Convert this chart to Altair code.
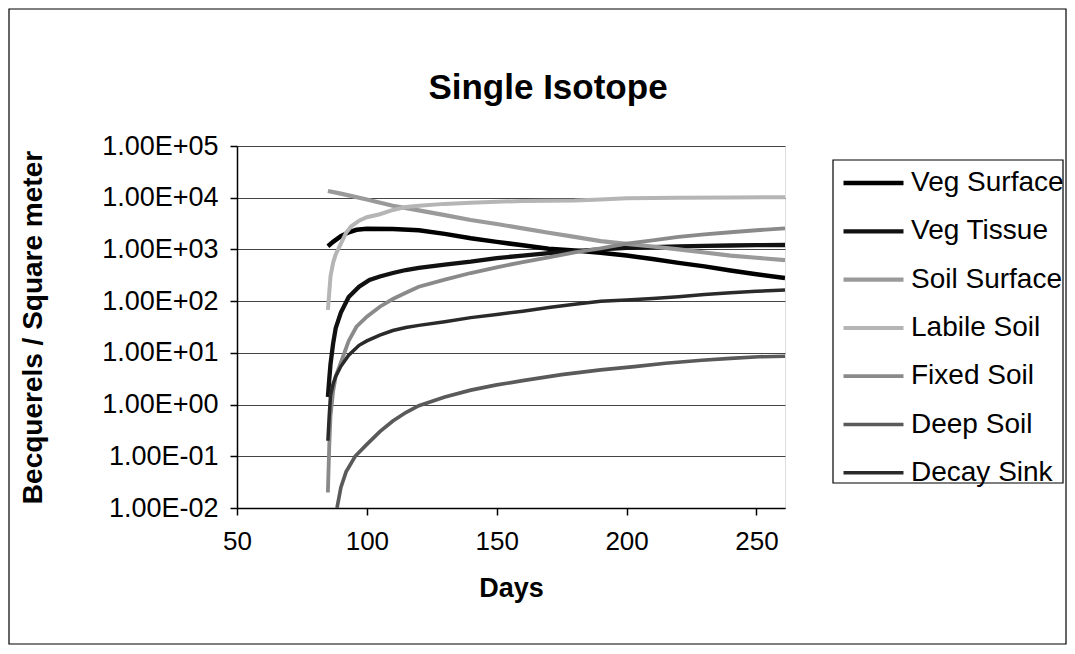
import altair as alt
import pandas as pd

# ---- data ----
series = ["Veg Surface", "Veg Tissue", "Soil Surface", "Labile Soil",
          "Fixed Soil", "Deep Soil", "Decay Sink"]

veg_surface_days = [85, 87, 90, 93, 96, 100, 110, 120, 130, 140, 150, 160, 170, 180,
                    190, 200, 210, 220, 230, 240, 250, 261]
veg_surface_vals = [1150, 1400, 1800, 2150, 2400, 2500, 2480, 2350, 2000, 1650, 1400,
                    1200, 1030, 950, 860, 760, 650, 550, 470, 390, 330, 280]

veg_tissue_days = [85, 85.5, 86, 87, 88, 90, 93, 97, 101, 105, 110, 115, 120, 130, 140,
                   150, 160, 170, 180, 190, 200, 210, 220, 230, 240, 250, 261]
veg_tissue_vals = [1.4, 3, 6, 15, 30, 60, 120, 190, 257, 300, 350, 400, 440, 510, 580,
                   680, 760, 850, 930, 1000, 1070, 1110, 1140, 1170, 1190, 1210, 1220]

soil_surface_days = [85, 90, 100, 110, 120, 130, 140, 150, 160, 170, 180, 190, 200,
                     210, 220, 230, 240, 250, 261]
soil_surface_vals = [13500, 12000, 9200, 7000, 5700, 4600, 3700, 3100, 2550, 2100,
                     1750, 1450, 1280, 1140, 1000, 870, 760, 690, 620]

labile_soil_days = [85, 86, 87, 88, 90, 92, 94, 97, 100, 105, 110, 115, 120, 130, 140,
                    150, 160, 170, 180, 190, 200, 220, 240, 261]
labile_soil_vals = [68, 300, 550, 800, 1300, 2100, 2800, 3600, 4200, 4800, 5800, 6600,
                    7000, 7600, 8000, 8400, 8600, 8700, 8800, 9200, 9800, 10000, 10100,
                    10200]

fixed_soil_days = [85, 85.5, 86, 87, 88, 90, 93, 96, 100, 105, 110, 115, 120, 130, 140,
                   150, 160, 170, 180, 190, 200, 210, 220, 230, 240, 250, 261]
fixed_soil_vals = [0.02, 0.15, 0.6, 1.8, 3.5, 6.5, 17, 32, 50, 78, 110, 145, 190, 260,
                   350, 450, 570, 700, 880, 1050, 1300, 1500, 1750, 1950, 2150, 2350,
                   2550]

deep_soil_days = [88.5, 90, 92, 95.5, 100, 105, 110, 115, 120, 130, 140, 150, 160, 175,
                  190, 203, 215, 229, 240, 251, 261]
deep_soil_vals = [0.01, 0.025, 0.05, 0.1, 0.17, 0.3, 0.48, 0.7, 0.95, 1.4, 1.9, 2.4,
                  2.9, 3.8, 4.7, 5.4, 6.3, 7.2, 7.8, 8.4, 8.6]

decay_sink_days = [85, 85.5, 86, 87, 88, 90, 93, 97, 100, 105, 110, 115, 120, 130, 140,
                   150, 160, 170, 180, 190, 200, 210, 220, 230, 240, 250, 261]
decay_sink_vals = [0.2, 0.6, 1.5, 2.5, 3.5, 5.5, 9, 14, 17, 22, 27, 31, 34, 40, 48, 55,
                   64, 75, 87, 100, 105, 112, 122, 135, 145, 155, 165]

x_ticks = [50, 100, 150, 200, 250]
y_ticks = [0.01, 0.1, 1, 10, 100, 1000, 10000, 100000]

colors = ["#000000", "#111111", "#9a9a9a", "#b5b5b5", "#8a8a8a", "#5a5a5a", "#2a2a2a"]
widths = [4.5, 3.5, 3.5, 3.5, 3.5, 3, 3]

pairs = [
    (veg_surface_days, veg_surface_vals),
    (veg_tissue_days, veg_tissue_vals),
    (soil_surface_days, soil_surface_vals),
    (labile_soil_days, labile_soil_vals),
    (fixed_soil_days, fixed_soil_vals),
    (deep_soil_days, deep_soil_vals),
    (decay_sink_days, decay_sink_vals),
]
rows = []
for name, (ds, vs) in zip(series, pairs):
    for i, (d, v) in enumerate(zip(ds, vs)):
        rows.append({"Series": name, "Day": d, "Value": v, "order": i})
df = pd.DataFrame(rows)

FONT = "Liberation Sans"

label_expr = ("'1.00E' + (datum.value >= 1 ? '+' : '-') + "
              "(abs(round(log(datum.value)/LN10)) < 10 ? '0' : '') + "
              "abs(round(log(datum.value)/LN10))")

lines = alt.Chart(df).mark_line(clip=True).encode(
    x=alt.X("Day:Q",
            scale=alt.Scale(domain=[50, 261], nice=False, zero=False),
            axis=alt.Axis(values=x_ticks, grid=False, tickSize=7, labelPadding=13,
                          labelFontSize=26, labelFont=FONT, labelColor="black",
                          labelFlush=False, labelOverlap=False,
                          domainColor="black", domainWidth=1.5, tickColor="black",
                          tickWidth=1.5,
                          title="Days", titleFont=FONT, titleFontSize=27,
                          titleFontWeight="bold", titleColor="black",
                          titleX=274, titleY=80, titleAlign="center",
                          titleBaseline="middle")),
    y=alt.Y("Value:Q",
            scale=alt.Scale(type="log", domain=[0.01, 100000], nice=False),
            axis=alt.Axis(values=y_ticks, labelExpr=label_expr, tickSize=7,
                          labelPadding=12, labelFontSize=27, labelFont=FONT,
                          labelColor="black", labelOverlap=False,
                          grid=True, gridColor="#444444", gridWidth=1,
                          domainColor="black", domainWidth=1.5, tickColor="black",
                          tickWidth=1.5,
                          title="Becquerels / Square meter", titleFont=FONT,
                          titleFontSize=28, titleFontWeight="bold",
                          titleColor="black", titleX=-204, titleY=181,
                          titleAngle=270, titleAlign="center",
                          titleBaseline="middle")),
    color=alt.Color("Series:N",
                    scale=alt.Scale(domain=series, range=colors),
                    sort=series,
                    legend=alt.Legend(orient="none", legendX=594, legendY=14,
                                      title=None, symbolType="stroke",
                                      symbolSize=3600, symbolStrokeWidth=4,
                                      labelFontSize=28, labelFont=FONT,
                                      labelColor="black", clipHeight=26,
                                      rowPadding=20.3, padding=10, labelOffset=5,
                                      labelLimit=400)),
    strokeWidth=alt.StrokeWidth("Series:N",
                                scale=alt.Scale(domain=series, range=widths),
                                legend=None),
    order="order:Q",
)

one = pd.DataFrame({"k": [0]})

legend_box = alt.Chart(one).mark_rect(fillOpacity=0, stroke="black",
                                      strokeWidth=1.2).encode(
    x=alt.value(596), x2=alt.value(826), y=alt.value(14), y2=alt.value(337))

frame = alt.Chart(one).mark_rect(fillOpacity=0, stroke="black",
                                 strokeWidth=1.2).encode(
    x=alt.value(-228), x2=alt.value(829), y=alt.value(-137), y2=alt.value(498))

title = alt.Chart(one).mark_text(font=FONT, fontSize=35, fontWeight="bold",
                                 align="center", baseline="middle",
                                 color="black").encode(
    x=alt.value(311), y=alt.value(-58), text=alt.value("Single Isotope"))

chart = alt.layer(frame, legend_box, lines, title).properties(
    width=548, height=362,
    autosize=alt.AutoSizeParams(type="none"),
    padding={"left": 229, "top": 138, "right": 282, "bottom": 138},
).configure_view(stroke="black", strokeWidth=1.5).configure(background="white")

chart.save("out.html", embed_options={"renderer": "svg", "actions": False})
